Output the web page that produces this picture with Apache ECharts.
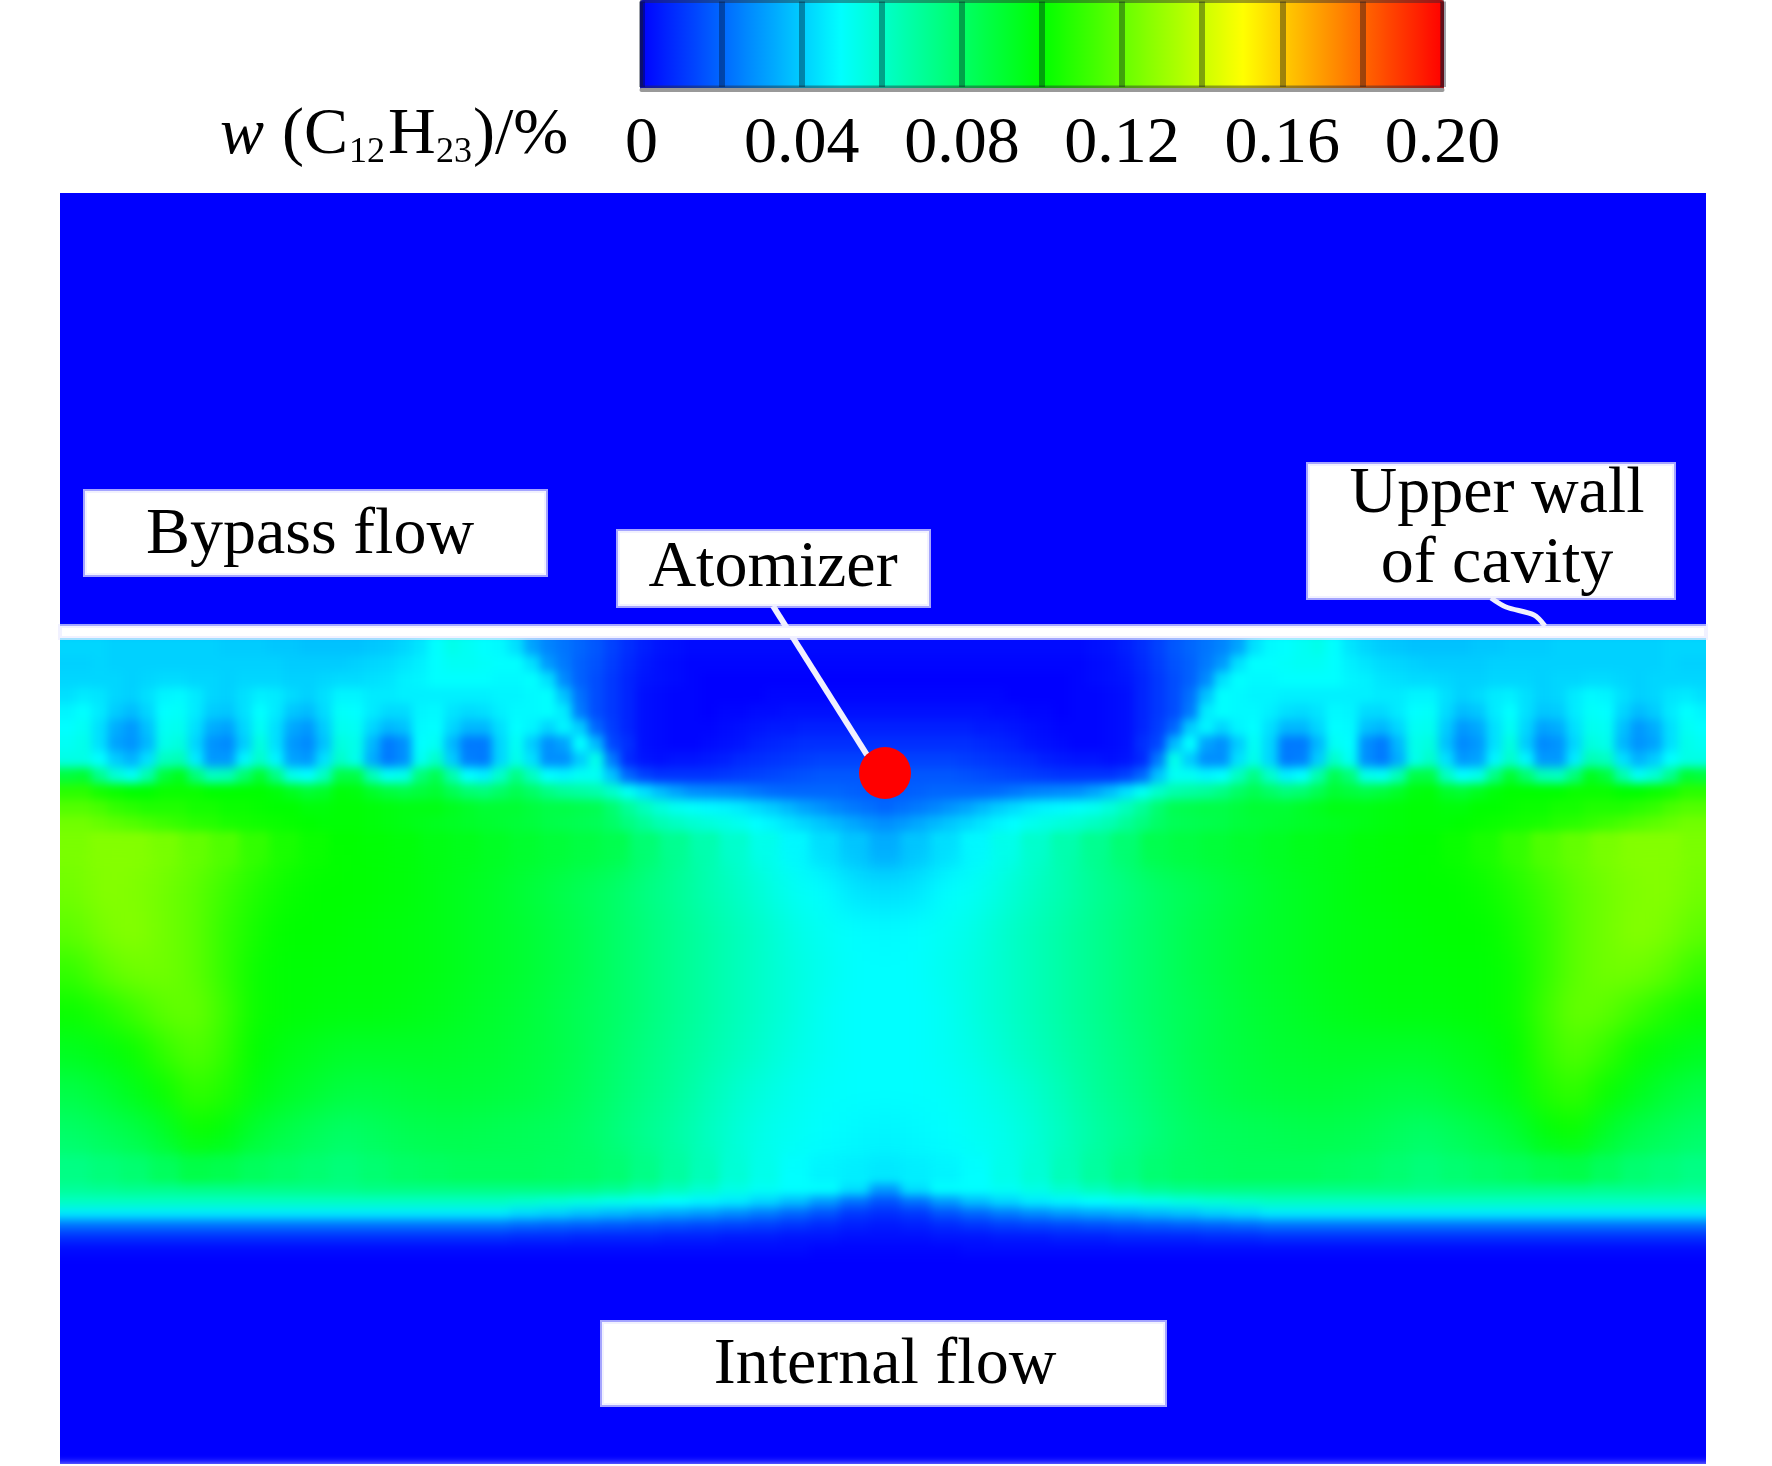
<!DOCTYPE html>
<html>
<head>
<meta charset="utf-8">
<style>html,body{margin:0;padding:0;background:#fff}#c{width:1772px;height:1466px}</style>
<script src="https://cdn.jsdelivr.net/npm/echarts@6/dist/echarts.min.js"></script>
</head>
<body>
<div id="c"></div>
<script>
// Mass fraction, in thousandths of a percent (0.05 % = 50).
// The field is mirror-symmetric about the atomizer, so the left half is listed; last column sits on the axis.
const fineRowEdges = [632,656,672,688,704,720,736,752,768,784,800,816,832];
const fineRows = [
[42,42,42,41,41,41,41,41,41,41,40,40,40,39,39,38,38,38,38,39,40,42,45,50,54,52,50,49,44,32,26,23,20,17,13,9,6,4,3,2,2,2,2,2,2,2,2,2,2,2,2,2],
[41,41,42,41,41,41,41,41,41,41,41,41,41,41,40,40,40,40,41,42,43,45,47,50,52,52,51,50,50,44,30,24,19,16,12,8,5,3,2,1,1,1,1,1,1,1,1,1,1,1,1,1],
[42,42,42,42,41,42,43,43,42,42,41,42,42,42,41,41,42,43,43,44,45,47,48,50,50,50,50,49,49,50,44,27,19,15,11,7,4,3,2,1,0,0,0,0,0,0,0,0,0,0,0,0],
[44,46,45,42,41,44,48,49,46,42,41,44,47,46,43,41,44,48,48,46,46,47,47,47,47,47,47,48,48,49,50,38,22,15,11,7,3,2,1,1,0,0,0,0,1,1,1,1,1,1,1,1],
[48,50,46,40,37,42,50,51,46,40,39,44,50,46,39,37,43,51,50,46,43,43,48,49,45,43,44,47,49,49,50,46,24,15,11,7,3,2,1,1,0,1,1,2,2,3,3,3,3,3,3,3],
[50,52,44,34,30,38,52,53,44,34,32,42,52,44,33,30,40,53,52,42,36,38,49,50,42,36,36,44,50,48,42,48,40,20,12,7,3,2,1,1,1,2,3,4,5,5,6,6,6,6,6,6],
[52,54,44,32,29,36,54,56,42,29,27,40,56,44,30,27,38,56,54,36,24,28,50,52,36,24,24,42,52,40,28,32,50,36,14,9,3,2,1,1,2,3,4,6,7,8,9,9,9,9,9,9],
[55,55,50,40,35,44,62,64,46,30,30,48,60,48,32,30,44,60,54,34,24,28,52,60,40,25,24,42,54,44,28,28,40,54,24,8,4,3,4,4,5,6,8,9,10,11,12,13,13,13,13,13],
[88,90,72,58,52,66,88,94,76,62,64,78,90,74,54,50,62,86,86,64,52,54,76,84,66,50,47,60,74,62,50,48,52,52,38,20,13,10,10,10,10,11,12,13,14,15,16,17,17,17,17,17],
[108,108,104,102,100,100,102,102,102,100,100,100,100,98,94,90,92,98,97,92,88,86,88,90,84,78,76,80,84,80,74,70,68,66,60,52,44,37,32,28,27,26,25,23,21,20,20,20,20,19,18,18],
[116,116,114,110,108,106,106,106,104,104,102,102,101,100,100,98,98,99,99,98,97,96,96,96,94,92,90,90,90,88,86,86,85,84,78,70,63,57,53,51,49,48,46,43,40,36,32,29,26,24,22,20],
[122,122,120,118,116,114,112,110,108,107,105,104,103,102,101,100,99,99,99,98,97,96,95,94,93,92,91,90,89,88,86,85,84,83,80,75,70,65,62,59,57,55,53,50,48,45,42,39,36,33,30,28]
];
const coarseRowEdges = [832,872,912,952,992,1032,1072,1112,1152,1184,1196,1208,1220,1232,1244,1256];
const coarseRows = [
[124,126,126,124,120,116,110,105,102,100,99,98,96,95,93,91,89,87,85,78,72,66,60,54,49,44,39,34],
[122,126,125,122,118,112,106,102,100,100,99,98,96,94,92,89,86,83,80,75,71,66,62,57,52,50,45,44],
[118,124,126,122,118,110,104,100,100,99,98,97,96,94,92,90,87,84,80,76,72,68,64,60,55,52,50,49],
[110,118,122,122,118,110,102,99,99,98,98,97,96,94,92,90,87,84,80,76,72,68,64,60,56,53,50,50],
[102,106,112,118,120,112,102,99,98,97,97,96,95,93,91,89,86,83,80,76,72,68,64,60,56,52,50,50],
[94,97,102,110,116,110,100,96,94,92,92,92,92,91,90,88,86,83,79,75,71,67,63,59,55,52,50,50],
[86,90,95,102,110,106,97,93,90,87,87,88,89,89,88,87,85,82,78,74,70,65,60,56,53,51,50,50],
[80,83,86,92,102,98,90,86,83,80,82,84,85,85,84,83,82,80,76,72,68,63,58,54,52,50,49,48],
[74,76,78,82,86,85,82,80,78,76,78,80,81,82,82,82,81,80,78,74,69,64,58,54,50,48,47,46],
[70,71,72,72,73,73,73,73,73,73,74,74,74,74,74,74,74,73,71,67,63,59,55,52,50,50,44,30],
[62,62,62,62,62,62,62,62,62,62,62,62,62,62,62,60,58,56,54,52,50,48,46,42,37,30,22,16],
[46,46,46,46,46,46,46,46,46,46,46,46,46,46,46,43,41,38,36,34,32,30,27,24,20,16,11,9],
[22,22,22,22,22,22,22,22,22,22,22,22,22,22,22,20,19,18,17,16,15,14,13,12,10,8,6,5],
[9,9,9,9,9,9,9,9,9,9,9,9,9,9,9,8,8,7,7,7,6,6,5,5,4,4,3,3],
[2,2,2,2,2,2,2,2,2,2,2,2,2,2,2,2,2,2,2,2,2,2,2,2,2,1,1,1]
];
const scaleTicks = [0, 0.04, 0.08, 0.12, 0.16, 0.20];
const scaleLabels = ['0', '0.04', '0.08', '0.12', '0.16', '0.20'];
const scaleColors = ['#0000ff', '#00ffff', '#00ff00', '#ffff00', '#ff0000'];
const atomizer = [[885, 773]];
const atomizerLeader = [[773, 606], [867, 755]];
const wallLeader = [[1491, 598], [1506, 607], [1534, 615], [1545, 626]];
const annotations = [
  {name: '', x0: 60, x1: 1706, y0: 626, y1: 638},
  {name: 'Bypass flow', x0: 85, x1: 546, y0: 491, y1: 575, tx: 310, ty: 536},
  {name: 'Atomizer', x0: 618, x1: 929, y0: 531, y1: 606, tx: 773, ty: 569},
  {name: 'Upper wall\nof cavity', x0: 1308, x1: 1674, y0: 464, y1: 598, tx: 1497, ty: 530},
  {name: 'Internal flow', x0: 602, x1: 1165, y0: 1322, y1: 1405, tx: 885, ty: 1366}
];

const CX = 885, X0 = 60;
const field = [[-60, 1830, 150, 640, 0], [-60, 1830, 1256, 1520, 0]];
function addBlock(edges, rows) {
  const n = rows[0].length;
  const w = (CX - X0) / (n - 0.5);
  rows.forEach(function (row, i) {
    row.forEach(function (v, j) {
      const a = j === 0 ? X0 - 60 : X0 + j * w;
      const b = X0 + (j + 1) * w;
      const val = v / 1000;
      if (j === n - 1) {
        field.push([a, 2 * CX - a, edges[i], edges[i + 1], val]);
      } else {
        field.push([a, b, edges[i], edges[i + 1], val]);
        field.push([2 * CX - b, 2 * CX - a, edges[i], edges[i + 1], val]);
      }
    });
  });
}
addBlock(fineRowEdges, fineRows);
addBlock(coarseRowEdges, coarseRows);

const FONT = '"Liberation Serif","Times New Roman",serif';
function titleText(text, x, y, size, italic) {
  return {type: 'text', zlevel: 2, z: 10, silent: true,
    style: {text: text, x: x, y: y, align: 'left', verticalAlign: 'middle',
      font: (italic ? 'italic ' : '') + size + 'px ' + FONT, fill: '#000'}};
}
function fieldCell(p, api) {
  const a = api.coord([api.value(0), api.value(2)]);
  const b = api.coord([api.value(1), api.value(3)]);
  return {type: 'rect', shape: {x: a[0], y: a[1], width: b[0] - a[0], height: b[1] - a[1]},
    style: {fill: api.visual('color'), stroke: api.visual('color'), lineWidth: 1}};
}

const chart = echarts.init(document.getElementById('c'), null, {renderer: 'canvas'});
chart.setOption({
  animation: false,
  tooltip: {show: false},
  grid: [
    {left: 60, top: 193, width: 1646, height: 1271, show: false},
    {left: 641.5, top: 1.5, width: 801, height: 85.5, show: true, zlevel: 2, z: 4,
      backgroundColor: 'transparent', borderColor: 'rgba(40,40,50,0.45)', borderWidth: 3}
  ],
  xAxis: [
    {gridIndex: 0, type: 'value', min: 60, max: 1706, show: false},
    {gridIndex: 1, type: 'value', min: 0, max: 0.2, interval: 0.02, zlevel: 2, z: 5, offset: 3,
      axisLine: {show: true, onZero: false, lineStyle: {color: '#999999', width: 4}},
      axisTick: {show: false},
      splitLine: {show: true, lineStyle: {color: 'rgba(0,10,30,0.38)', width: 6}},
      axisLabel: {customValues: scaleTicks, margin: 22, color: '#000', fontSize: 66, fontFamily: FONT,
        verticalAlign: 'top', hideOverlap: false,
        formatter: function (v) {
          const k = scaleTicks.findIndex(function (t) { return Math.abs(t - v) < 1e-6; });
          return k < 0 ? '' : scaleLabels[k];
        }}}
  ],
  yAxis: [
    {gridIndex: 0, type: 'value', min: 193, max: 1464, inverse: true, show: false},
    {gridIndex: 1, type: 'value', min: 0, max: 1, show: false}
  ],
  visualMap: {
    type: 'continuous', seriesIndex: [0, 1], dimension: 4, min: 0, max: 0.2,
    orient: 'horizontal', left: 640, top: 0, itemWidth: 90, itemHeight: 804, padding: 0,
    text: null, showLabel: false, calculable: false, hoverLink: false, realtime: false,
    zlevel: 2, z: 1, inRange: {color: scaleColors},
    handleStyle: {opacity: 0}, indicatorStyle: {opacity: 0}, textStyle: {color: 'transparent', fontSize: 1}
  },
  graphic: {elements: [
    titleText('w', 220, 136, 66, true),
    titleText('(C', 282, 136, 66),
    titleText('12', 349, 153, 36),
    titleText('H', 388, 136, 66),
    titleText('23', 436, 153, 36),
    titleText(')/%', 473, 136, 66)
  ]},
  series: [
    {name: 'w(C12H23)', type: 'custom', coordinateSystem: 'cartesian2d', xAxisIndex: 0, yAxisIndex: 0,
      zlevel: 0, progressive: 0, silent: true, clip: false, data: field, renderItem: fieldCell},
    {name: 'w(C12H23) mid', type: 'custom', coordinateSystem: 'cartesian2d', xAxisIndex: 0, yAxisIndex: 0,
      zlevel: 1, progressive: 0, silent: true, clip: false, data: field, renderItem: fieldCell},
    {type: 'line', xAxisIndex: 0, yAxisIndex: 0, zlevel: 2, z: 3, silent: true, showSymbol: false, symbol: 'none',
      data: atomizerLeader, lineStyle: {color: '#f0f0ff', width: 6}},
    {type: 'line', xAxisIndex: 0, yAxisIndex: 0, zlevel: 2, z: 3, silent: true, showSymbol: false, symbol: 'none',
      smooth: 0.3, data: wallLeader, lineStyle: {color: '#f0f0ff', width: 5}},
    {type: 'custom', coordinateSystem: 'cartesian2d', xAxisIndex: 0, yAxisIndex: 0, zlevel: 2, z: 4, silent: true,
      data: annotations.map(function (_, i) { return [i]; }),
      renderItem: function (p, api) {
        const d = annotations[api.value(0)];
        const a = api.coord([d.x0, d.y0]);
        const b = api.coord([d.x1, d.y1]);
        const children = [{type: 'rect', shape: {x: a[0], y: a[1], width: b[0] - a[0], height: b[1] - a[1]},
          style: {fill: '#fff', stroke: 'rgba(235,235,255,0.7)', lineWidth: 4}}];
        if (d.name) {
          const t = api.coord([d.tx, d.ty]);
          children.push({type: 'text', style: {text: d.name, x: t[0], y: t[1], align: 'center', verticalAlign: 'middle',
            font: '66px ' + FONT, fill: '#000', lineHeight: 70}});
        }
        return {type: 'group', children: children};
      }},
    {type: 'scatter', xAxisIndex: 0, yAxisIndex: 0, zlevel: 2, z: 5, silent: true, symbol: 'circle', symbolSize: 52,
      data: atomizer, itemStyle: {color: '#ff0000', opacity: 1}}
  ]
});

// The reference is a smooth raster: soften only the field layers and trim them to the plot frame.
// The coarse middle band gets a wider softening, feathered into the finer layer underneath.
function softenField() {
  const painter = chart.getZr().painter;
  const sharp = painter.getLayer(0), wide = painter.getLayer(1);
  const frame = 'inset(193px 66px 2px 60px)';
  sharp.dom.style.filter = 'blur(5px)';
  sharp.dom.style.clipPath = frame;
  wide.dom.style.filter = 'blur(14px)';
  wide.dom.style.clipPath = frame;
  const mask = 'linear-gradient(to bottom, transparent 835px, #000 875px, #000 1140px, transparent 1178px)';
  wide.dom.style.maskImage = mask;
  wide.dom.style.webkitMaskImage = mask;
}
softenField();
chart.on('finished', softenField);
</script>
</body>
</html>
